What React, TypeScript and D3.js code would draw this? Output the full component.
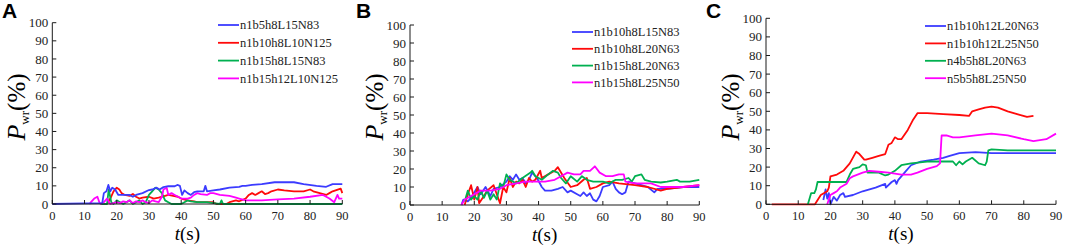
import React from "react";
import * as d3 from "d3";

type Pt = [number, number];

const xTicks = [0, 10, 20, 30, 40, 50, 60, 70, 80, 90];
const yTicks = [0, 10, 20, 30, 40, 50, 60, 70, 80, 90, 100];
const colors = ["#3b3bff", "#ff0a0a", "#00b050", "#ff00ff"];

// Panel A
const namesA = ["n1b5h8L15N83", "n1b10h8L10N125", "n1b15h8L15N83", "n1b15h12L10N125"];
const aBlue: Pt[] = [[0,0],[10,0.3],[15.5,0.5],[16,6],[16.8,7],[17.4,10.5],[18,7],[18.6,9],[19.5,8],[20.5,5],[22,5],[24,5],[25,4],[26,5],[28,6],[30,7.7],[31,8],[32.4,9],[33.3,8],[34.5,9.3],[36,9.8],[38,9.8],[38.8,10.5],[39.6,10],[40.3,5],[41,7.5],[42,6],[43,5],[44,6.5],[45,7],[47,7],[47.5,10],[48,7],[50,7.5],[52,8],[55,9],[58,9.5],[59,10],[60,10],[62,10.5],[65,11],[69,12],[72,12],[75,12],[78,11],[82,10],[85,9.5],[87,11],[90,11]];
const aRed: Pt[] = [[17,0],[18,3],[19,7],[20,9],[20.8,8],[21.5,6],[22.5,5],[24,4.5],[25,5.5],[26,4],[27,3],[28,3.5],[30,4],[31.5,3],[33,3.5],[35,4.5],[36,5],[37.5,4.5],[39,4],[40,3],[42,2],[44,1.5],[45,1],[48,1],[50,1],[51,0],[54,0],[55,1],[57,2],[58,1.5],[60,3],[61,5],[62,6],[63,5],[64,6],[65,7],[66,5.5],[67,6],[68,7],[70,8],[72,7.5],[75,7],[78,7],[80,8],[81,7],[83,6],[85,5],[86,6],[87,7],[89.5,8.5],[90,6]];
const aGreen: Pt[] = [[15,0],[17,0],[17.5,8],[18.3,1],[19,0],[20,2],[21,1],[22,0],[23,1],[24,2],[25,0],[26,1],[27,2],[28,0],[29,1],[30,5],[31,7],[32,9],[33,8],[34,6],[35,2],[36,1],[37,0],[40,0],[41,1],[42,2],[43,1.5],[45,1],[48,1],[50,0.5],[52,0],[52.5,2],[53,0],[60,0],[90,0]];
const aMag: Pt[] = [[11.5,0],[12,1],[13,3],[14,4],[14.6,1],[15,0],[16,1],[17,3],[17.6,1],[18,0],[19,0.5],[20,1],[21,0.5],[22,1.5],[23,1],[24,2],[25,0.5],[26,1.5],[27,1],[28,2],[29,1],[30,0.5],[31,2],[32,1.5],[33,1],[34,4],[34.5,8],[35.5,9],[36,5],[37,6],[38,5],[39,4],[40,3],[42,3],[43,3.5],[44,5],[45,6],[46,5.5],[48,5],[49,6],[50,6],[52,5],[55,4.5],[57,3.5],[58,3],[60,2],[65,2],[70,2.5],[75,3],[80,4],[84,5],[85,4],[86,3],[87.5,1],[88.5,5],[89,3],[90,3]];

// Panel B
const namesB = ["n1b10h8L15N83", "n1b10h8L20N63", "n1b15h8L20N63", "n1b15h8L25N50"];
const bBlue: Pt[] = [[16,0],[16.6,3],[18,2],[19,4],[20,7],[21,10],[22,6],[23.5,10],[25,5],[26,9],[28,10],[30,13],[31,16],[32,14],[33,17],[34,14],[35,15],[36,12],[37,14],[38,18],[39.5,15],[41,10],[42,8],[44,8],[46,9],[47.5,10],[49,7],[50,8],[52,6],[53,5],[54,7],[55,5],[56,6.5],[57,3],[58,2],[59,5],[60,10],[62,11],[63,13],[64,9],[65,7],[66,6],[67,7],[68,13],[70,12],[72,11],[74,10],[76,7],[77,9],[80,9],[85,10],[90,10]];
const bRed: Pt[] = [[17,0],[18,6],[19,11],[20,3],[21,10],[21.5,1],[23,5],[24,8],[26,11],[27,6],[28,1],[29,10],[30,7],[31,15],[32,10],[33,13],[34,12],[35,14],[36,10],[37,15],[38,13],[39,14],[40.5,19],[41,15],[43,17],[45,19],[46,21],[48,15],[50,10],[52,11],[54,14],[55,15],[56,9],[58,10],[60,12],[62,13],[65,12],[70,11],[74,10],[78,8],[80,9],[85,10],[90,11]];
const bGreen: Pt[] = [[17,2],[18,8],[19,3],[20,5],[21,3],[22,8],[23,4],[24,8],[25,3],[26,6],[27,3],[28,12],[29,10],[30,17],[31,14],[33,12],[35,15],[37.5,18],[38,19],[39,16],[41,14],[43,17],[44.5,19],[46,18],[47,15],[48.5,12],[50,16],[52,13],[53.5,16],[55,14],[57,13],[60,13],[62,12],[64,14],[66,14],[68,15],[69,13],[70,16],[72,17],[73,14],[75,13],[78,12.5],[80,13],[83,14],[84,13],[87,13],[90,14]];
const bMag: Pt[] = [[16,0],[17,3],[19,5],[22,8],[25,8],[28,9],[30,11],[33,12],[36,13],[40,13],[42,13],[45,14],[47,16],[49,18],[51,17],[53,17],[54,19],[56,19],[57.5,21.5],[59,18],[61,16],[63,16],[65,17],[66.5,17],[67,13],[70,12],[75,12],[78,10],[80,10],[85,10],[90,11]];

// Panel C
const namesC = ["n1b10h12L20N63", "n1b10h12L25N50", "n4b5h8L20N63", "n5b5h8L25N50"];
const cBlue: Pt[] = [[17.8,2.3],[18.5,8],[19,3],[19.5,6],[20,0],[21,4],[22,2],[23,5],[24,6],[24.5,4],[27,5],[30,7],[34,9],[37,11],[37.2,9],[39,12],[40,13],[40.5,11],[41,13],[43,17],[45,21],[48,23],[52,24],[55,25],[57,26],[60,27.5],[65,28],[70,27.5],[90,27.5]];
const cRed: Pt[] = [[1.8,0],[15.2,0],[17,5],[19,7],[19.5,9],[20,15],[22,16],[24,18],[26,22],[28,28.3],[29,27],[30.5,24],[31,24],[33,25],[35,26],[37,27],[38,32],[39,33],[40,36],[41,35],[42,35],[44,40],[45.5,45],[47,49],[50,49],[55,48.5],[60,48],[63,47.5],[64,50],[66,51],[68,52],[70,52.5],[72,52],[75,50],[79,48],[81,47],[83,47.5]];
const cGreen: Pt[] = [[13,0],[14,6],[15,6],[15.5,8],[16,12],[25,12],[26,16],[27,19],[29,20],[30,21.5],[31,21],[31.5,17],[35,17],[37,15.5],[38,16],[40,18],[42,21],[45,22],[50,23],[55,23],[58,23],[59,21],[60,23],[61,21.5],[62,23],[64,25],[66,22],[68,21],[68.5,23],[69,29],[70,29.5],[75,29],[90,29]];
const cMag: Pt[] = [[19,0],[20,5],[21,6],[22,7],[23,9],[25,11],[26,14],[27,15],[30,17],[32,18],[35,17.5],[38,17],[42,16],[45,16],[47,17],[50,19],[53,20.5],[54,22],[54.5,37],[56,37],[58,36],[60,36],[65,37],[70,38],[75,37],[80,35],[83,34],[87,35],[90,38]];

interface PanelDef {
  letter: string;
  letterX: number;
  x0: number; x1: number; y0: number; y100: number;
  names: string[];
  series: Pt[][];
  legX: number; legY: number; legDy: number;
  order: number[];
}

const panels: PanelDef[] = [
  { letter: "A", letterX: 2, x0: 52.3, x1: 342.3, y0: 204, y100: 22.7, names: namesA, series: [aBlue, aRed, aGreen, aMag], legX: 218, legY: 25, legDy: 17.8, order: [1, 2, 3, 0] },
  { letter: "B", letterX: 356, x0: 410, x1: 699.3, y0: 205, y100: 25, names: namesB, series: [bBlue, bRed, bGreen, bMag], legX: 572, legY: 32, legDy: 16.8, order: [0, 1, 2, 3] },
  { letter: "C", letterX: 706, x0: 766, x1: 1056, y0: 204.3, y100: 18.3, names: namesC, series: [cBlue, cRed, cGreen, cMag], legX: 925, legY: 26, legDy: 17.4, order: [0, 1, 2, 3] },
];

const serif = "Liberation Serif, Tinos, Times New Roman, DejaVu Serif, serif";
const sans = "Liberation Sans, Arimo, Arial, sans-serif";

function Panel({ p }: { p: PanelDef }) {
  const x = d3.scaleLinear().domain([0, 90]).range([p.x0, p.x1]);
  const y = d3.scaleLinear().domain([0, 100]).range([p.y0, p.y100]);
  const line = d3.line<Pt>().x((d) => x(d[0])).y((d) => y(d[1]));
  const midX = (p.x0 + p.x1) / 2 - 10;
  const midY = 107;
  return (
    <g>
      <text x={p.letterX} y={18} style={{ fontFamily: sans, fontWeight: "bold", fontSize: 21 }} fill="#000">{p.letter}</text>
      {p.order.map((i) => (
        <path key={i} d={line(p.series[i]) || ""} fill="none" stroke={colors[i]} strokeWidth={1.8} strokeLinejoin="round" />
      ))}
      <line x1={p.x0} x2={p.x0} y1={y(100)} y2={p.y0} stroke="#1a1a1a" strokeWidth={1} />
      <line x1={p.x0} x2={p.x1} y1={p.y0} y2={p.y0} stroke="#1a1a1a" strokeWidth={1} />
      {yTicks.map((t) => (
        <g key={"y" + t}>
          <line x1={p.x0} x2={p.x0 + 4} y1={y(t)} y2={y(t)} stroke="#1a1a1a" strokeWidth={1} />
          <text x={p.x0 - 4} y={y(t)} dy="0.35em" textAnchor="end" style={{ fontFamily: serif, fontSize: 13 }} fill="#222">{t}</text>
        </g>
      ))}
      {xTicks.map((t) => (
        <g key={"x" + t}>
          <line x1={x(t)} x2={x(t)} y1={p.y0} y2={p.y0 - 4} stroke="#1a1a1a" strokeWidth={1} />
          <text x={x(t)} y={p.y0 + 15.5} textAnchor="middle" style={{ fontFamily: serif, fontSize: 12.5 }} fill="#222">{t}</text>
        </g>
      ))}
      <text x={midX} y={p.y0 + 36} textAnchor="middle" style={{ fontFamily: serif, fontSize: 19 }} fill="#000">
        <tspan fontStyle="italic">t</tspan>(s)
      </text>
      <text transform={`translate(${p.x0 - 27},${midY}) rotate(-90)`} textAnchor="middle" style={{ fontFamily: serif, fontSize: 25 }} fill="#000">
        <tspan fontStyle="italic" style={{ fontSize: 26 }}>P</tspan>
        <tspan style={{ fontSize: 13 }} dy="4">wr</tspan>
        <tspan dy="-4">(%)</tspan>
      </text>
      {p.names.map((n, i) => (
        <g key={n}>
          <line x1={p.legX} x2={p.legX + 21} y1={p.legY + i * p.legDy} y2={p.legY + i * p.legDy} stroke={colors[i]} strokeWidth={1.8} />
          <text x={p.legX + 22} y={p.legY + i * p.legDy} dy="0.35em" style={{ fontFamily: serif, fontSize: 12.5 }} fill="#222">{n}</text>
        </g>
      ))}
    </g>
  );
}

export default function App() {
  return (
    <svg width={1065} height={246} style={{ position: "fixed", left: 0, top: 0, background: "#fff", display: "block" }}>
      <rect width={1065} height={246} fill="#fff" />
      {panels.map((p) => (
        <Panel key={p.letter} p={p} />
      ))}
    </svg>
  );
}
